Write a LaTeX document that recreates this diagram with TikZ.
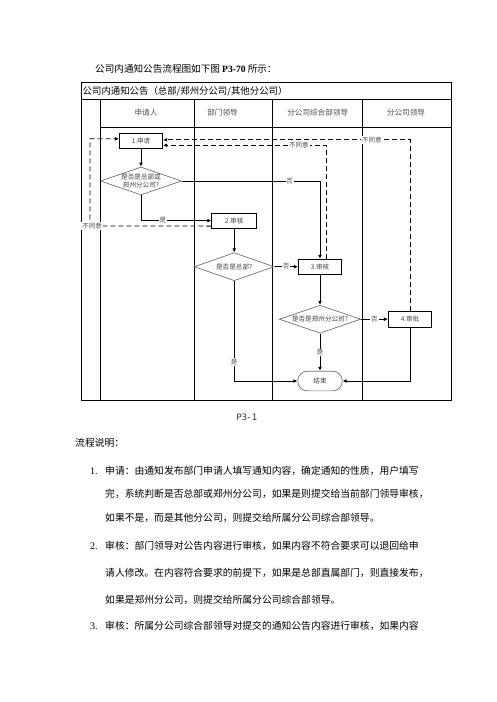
\documentclass[tikz,border=0pt]{standalone}
\usepackage{fontspec}
\setmainfont{Liberation Serif}
\newfontfamily\cjk{Noto Sans CJK SC}
\newfontfamily\capfont{DejaVu Sans}
\usetikzlibrary{shapes.geometric,arrows.meta}
\tikzset{
  tbl/.style={line width=0.9pt,black},
  stepbox/.style={draw,line width=0.8pt,minimum width=43.4pt,minimum height=15pt,inner sep=0pt,
    font=\cjk\fontsize{6.5}{7.5}\selectfont,text=black!75},
  decide/.style={diamond,draw=black!55,line width=0.7pt,minimum width=81pt,minimum height=28pt,
    aspect=2.9,inner sep=0pt,align=center,font=\cjk\fontsize{6.6}{8}\selectfont,text=black!75},
  endbox/.style={draw=black!55,line width=0.7pt,rounded corners=9.8pt,minimum width=44.6pt,
    minimum height=19.7pt,inner sep=0pt,font=\cjk\fontsize{6.6}{8}\selectfont,text=black!75},
  flow/.style={line width=0.8pt,-{Latex[length=4pt,width=3.8pt]}},
  back/.style={line width=0.8pt,dash pattern=on 5pt off 3pt,-{Latex[length=4pt,width=3.8pt]}},
  lbl/.style={fill=white,inner sep=0.8pt,font=\cjk\fontsize{6.5}{7.5}\selectfont,text=black!70},
  head/.style={font=\cjk\fontsize{7.6}{9}\selectfont,text=black!70},
  body/.style={anchor=west,inner sep=0pt,font=\cjk\fontsize{9.8}{12}\selectfont},
  num/.style={anchor=west,inner sep=0pt,font=\fontsize{10}{12}\selectfont}
}
\begin{document}
\begin{tikzpicture}[x=1pt,y=-1pt]
\fill[white] (0,0) rectangle (496,702);
\useasboundingbox (0,0) rectangle (496,702);

% title
\node[anchor=west,inner sep=0pt,font=\cjk\fontsize{9.6}{11}\selectfont] (title) at (95,69)
  {公司内通知公告流程图如下图 {\rmfamily\bfseries P3-70} 所示：};

% table
\draw[tbl] (81.5,82) rectangle (451.7,400);
\draw[tbl] (81.5,99) -- (451.7,99);
\draw[tbl] (100.7,127) -- (451.7,127);
\foreach \xx in {100.7,194.3,272.3,362.3} \draw[tbl] (\xx,99) -- (\xx,400);
\node[anchor=west,inner sep=0pt,font=\cjk\fontsize{9.4}{11}\selectfont] (rowt) at (82.5,91)
  {公司内通知公告（总部/郑州分公司/其他分公司）};
\node[head] (h1) at (146,113) {申请人};
\node[head] (h2) at (222.5,113) {部门领导};
\node[head] (h3) at (317.7,113) {分公司综合部领导};
\node[head] (h4) at (406,113) {分公司领导};

% nodes
\node[stepbox] (n1) at (141,140.8) {1.申请};
\node[decide] (d1) at (141,181) {是否是总部或\\郑州分公司?};
\node[stepbox,minimum width=45pt,minimum height=15.3pt] (n2) at (234.2,220.6) {2.审核};
\node[decide,minimum width=80pt] (d2) at (234.2,266.7) {是否是总部?};
\node[stepbox] (n3) at (320,266.7) {3.审核};
\node[decide,minimum width=81.4pt] (d3) at (320,319.2) {是否是郑州分公司?};
\node[stepbox,minimum height=16.3pt] (n4) at (410,319.2) {4.审批};
\node[endbox] (end) at (320,381) {结束};

% flow connectors
\draw[flow] (n1) -- (d1);
\draw[flow] (d1.south) |- node[lbl,pos=0.655] {是} (n2.west);
\draw[flow] (d1.east) -| node[lbl,pos=0.39] {否} (n3.north);
\draw[flow] (n2) -- (d2);
\draw[flow] (d2.east) -- node[lbl,pos=0.5] {否} (n3.west);
\draw[flow] (n3) -- (d3);
\draw[flow] (d3.east) -- node[lbl,pos=0.5] {否} (n4.west);
\draw[flow] (d3.south) -- node[lbl,pos=0.5] {是} (end.north);
\draw[flow] (d2.south) |- node[lbl,pos=0.405] {是} (end.west);
\draw[flow] (n4.south) |- (end.east);

% reject (dashed) connectors
\draw[back] ([xshift=6pt]n3.north) |- node[lbl,pos=0.583] {不同意} ([yshift=-4.5pt]n1.east);
\draw[back] (n4.north) |- node[lbl,pos=0.577] {不同意} ([yshift=1pt]n1.east);
\coordinate (cl) at (90,226);
\draw[back] ([yshift=-5.5pt]n2.west) -- (cl) |- ([yshift=2pt]n1.west);
\node[lbl] (lno) at (92,226) {不同意};

% caption
\node[inner sep=0pt,font=\capfont\fontsize{8.8}{10}\selectfont,text=black!80] (cap) at (247,417) {P3-\,1};

% explanation
\node[body] (expl) at (75,443) {流程说明：};
\node[num] (i1) at (90,471) {1.};
\node[body] (l1a) at (105,471) {申请：由通知发布部门申请人填写通知内容，确定通知的性质，用户填写};
\node[body] (l1b) at (105,494) {完，系统判断是否总部或郑州分公司，如果是则提交给当前部门领导审核，};
\node[body] (l1c) at (105,518) {如果不是，而是其他分公司，则提交给所属分公司综合部领导。};
\node[num] (i2) at (90,546) {2.};
\node[body] (l2a) at (105,546) {审核：部门领导对公告内容进行审核，如果内容不符合要求可以退回给申};
\node[body] (l2b) at (105,573) {请人修改。在内容符合要求的前提下，如果是总部直属部门，则直接发布，};
\node[body] (l2c) at (105,600) {如果是郑州分公司，则提交给所属分公司综合部领导。};
\node[num] (i3) at (90,626) {3.};
\node[body] (l3a) at (105,626) {审核：所属分公司综合部领导对提交的通知公告内容进行审核，如果内容};
\end{tikzpicture}
\end{document}
